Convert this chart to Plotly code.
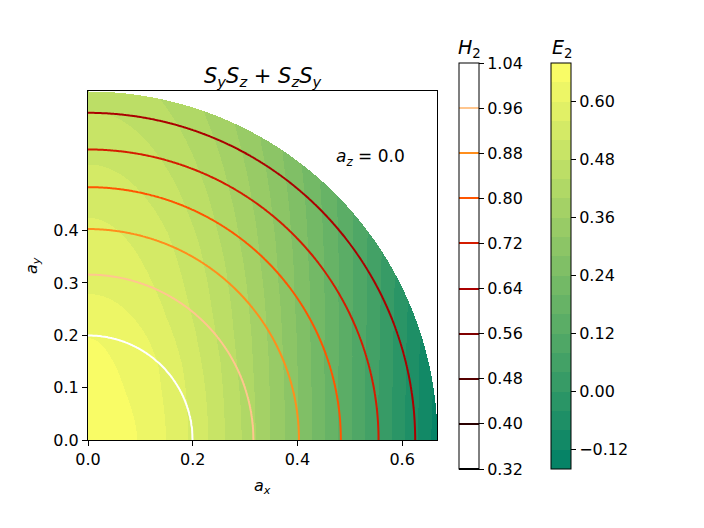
import numpy as np
import plotly.graph_objects as go

# ---------------- data ----------------
# E2 along the a_x axis (a_y = 0): radius -> value
ex_r = [0.0, 0.0926, 0.148, 0.19, 0.2286, 0.2605, 0.2925, 0.3193, 0.347, 0.3755, 0.401,
        0.4266, 0.452, 0.476, 0.503, 0.529, 0.553, 0.580, 0.605, 0.630, 0.655, 0.667]
ex_v = [0.665, 0.64, 0.60, 0.56, 0.52, 0.48, 0.44, 0.40, 0.36, 0.32, 0.28,
        0.24, 0.20, 0.16, 0.12, 0.08, 0.04, 0.00, -0.04, -0.08, -0.12, -0.135]
# E2 along the a_y axis (a_x = 0)
ey_r = [0.0, 0.195, 0.28, 0.425, 0.527, 0.629, 0.667]
ey_v = [0.665, 0.64, 0.60, 0.56, 0.52, 0.48, 0.465]
# H2 radial profile (circular contours)
h_r = [0.0, 0.2, 0.316, 0.403, 0.483, 0.555, 0.625, 0.667]
h_v = [1.093, 1.04, 0.96, 0.88, 0.80, 0.72, 0.64, 0.59]

r_max = 2.0 / 3.0
h2_start, h2_end, h2_step = 0.32, 1.04, 0.08
e2_lo, e2_hi, e2_step = -0.16, 0.68, 0.04

h2_ticks = [0.32, 0.40, 0.48, 0.56, 0.64, 0.72, 0.80, 0.88, 0.96, 1.04]
e2_ticks = [-0.12, 0.00, 0.12, 0.24, 0.36, 0.48, 0.60]
x_ticks = [0.0, 0.2, 0.4, 0.6]
y_ticks = [0.0, 0.1, 0.2, 0.3, 0.4]

# ---------------- fields on a grid ----------------
n = 350
g = np.linspace(0, r_max, n)
X, Y = np.meshgrid(g, g)
R = np.hypot(X, Y)
TH = np.arctan2(Y, X)
E2 = np.interp(R, ex_r, ex_v) * np.cos(TH) ** 2 + np.interp(R, ey_r, ey_v) * np.sin(TH) ** 2
E2 = np.where(R <= r_max, np.round(E2, 4), np.nan)
H2 = np.round(np.interp(R, h_r, h_v), 4)

# ---------------- colour maps ----------------
def summer(t):
    return f"rgb({255 * t:.0f},{127.5 + 127.5 * t:.0f},102)"

def gist_heat(t):
    r = min(1.5 * t, 1.0)
    gg = max(2 * t - 1, 0.0)
    b = max(4 * t - 3, 0.0)
    return f"rgb({255 * r:.0f},{255 * gg:.0f},{255 * b:.0f})"

nb = int(round((e2_hi - e2_lo) / e2_step))
e2_scale = []
for k in range(nb):
    c = summer((k + 0.5) / nb)
    e2_scale.append([k / nb, c])
    e2_scale.append([(k + 1) / nb, c])

nl = int(round((h2_end - h2_start) / h2_step)) + 1
h2_scale = [[i / (nl - 1), gist_heat(i / (nl - 1))] for i in range(nl)]

W, H = 704, 528
OFF = 8  # page body margin of the html page
ax_l, ax_r, ax_t, ax_b = 88, 437, 91, 440
font = dict(family="DejaVu Sans", size=16, color="black")
mid = dict(family="DejaVu Sans", size=17, color="black")
big = dict(family="DejaVu Sans", size=19, color="black")
ttl = dict(family="DejaVu Sans", size=21, color="black")

def fx(px):
    return (px - OFF) / W

def fy(py):
    return (H - (py - OFF)) / H

cb_common = dict(xanchor="left", xpad=0, thickness=20, thicknessmode="pixels",
                 y=fy(266), yanchor="middle", len=406 / H, lenmode="fraction", ypad=0,
                 outlinecolor="black", outlinewidth=1, tickmode="array",
                 ticks="outside", ticklen=5, tickwidth=1, tickcolor="black",
                 tickfont=font)

fig = go.Figure()
fig.add_trace(go.Heatmap(
    x=g, y=g, z=E2, zmin=e2_lo, zmax=e2_hi, colorscale=e2_scale,
    zsmooth=False, hoverinfo="skip",
    colorbar=dict(x=fx(551), tickvals=e2_ticks,
                  ticktext=[f"{v:.2f}".replace("-", "\u2212") for v in e2_ticks],
                  **cb_common),
))
fig.add_trace(go.Contour(
    x=g, y=g, z=H2, autocontour=False,
    contours=dict(start=h2_start, end=h2_end, size=h2_step, coloring="lines"),
    colorscale=h2_scale, line=dict(width=2, smoothing=0), hoverinfo="skip",
    colorbar=dict(x=fx(459), tickvals=h2_ticks,
                  ticktext=[f"{v:.2f}" for v in h2_ticks], **cb_common),
))

axis_common = dict(showgrid=False, zeroline=False, showline=True, mirror=True,
                   linecolor="black", linewidth=1, ticks="outside", ticklen=5,
                   tickwidth=1, tickcolor="black", tickfont=font, tickmode="array",
                   automargin=False)

def ann(x, y, text, f, angle=0):
    return dict(x=fx(x), y=fy(y), xref="paper", yref="paper", showarrow=False,
                xanchor="center", yanchor="middle", text=text, font=f, textangle=angle)

fig.update_layout(
    width=W, height=H, autosize=False,
    margin=dict(l=0, r=0, t=0, b=0, pad=0, autoexpand=False),
    paper_bgcolor="white", plot_bgcolor="white", showlegend=False,
    xaxis=dict(domain=[fx(ax_l), fx(ax_r)], range=[0, r_max], tickvals=x_ticks,
               ticktext=[f"{v:.1f}" for v in x_ticks], **axis_common),
    yaxis=dict(domain=[fy(ax_b), fy(ax_t)], range=[0, r_max], tickvals=y_ticks,
               ticktext=[f"{v:.1f}" for v in y_ticks], **axis_common),
    annotations=[
        ann(262, 77, "<i>S</i><sub><i>y</i></sub><i>S</i><sub><i>z</i></sub> + "
                     "<i>S</i><sub><i>z</i></sub><i>S</i><sub><i>y</i></sub>", ttl),
        ann(262, 486, "<i>a</i><sub><i>x</i></sub>", font),
        ann(32, 266, "<i>a</i><sub><i>y</i></sub>", font, -90),
        ann(370, 157, "<i>a</i><sub><i>z</i></sub> = 0.0", mid),
        ann(469, 48, "<i>H</i><sub>2</sub>", big),
        ann(562, 48, "<i>E</i><sub>2</sub>", big),
    ],
)

fig.write_html("out.html")
